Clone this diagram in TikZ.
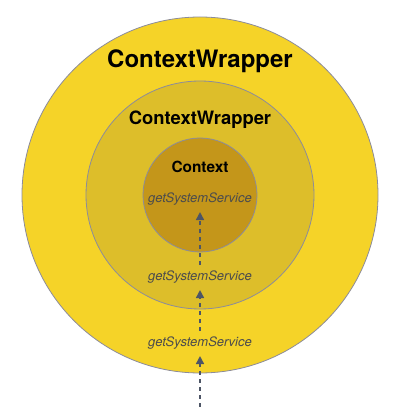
\documentclass[tikz,border=0pt]{standalone}
\usepackage{fontspec}
\setmainfont{TeX Gyre Heros}
\usepackage{tikz}
\usetikzlibrary{arrows.meta}
\definecolor{wrapOuter}{RGB}{245,211,40}
\definecolor{wrapInner}{RGB}{221,190,42}
\definecolor{ctxFill}{RGB}{196,150,26}
\definecolor{ringGray}{RGB}{140,140,155}
\definecolor{callGray}{RGB}{77,85,102}

\begin{document}
\begin{tikzpicture}[x=1pt, y=1pt,
  ring/.style={circle, draw=ringGray, line width=0.8pt, inner sep=0pt, outer sep=0pt},
  title/.style={anchor=base, text=black},
  call/.style={anchor=base, inner sep=6pt, font=\itshape\fontsize{13}{15}\selectfont, text=black!70},
  callarrow/.style={dash pattern=on 4pt off 4pt, line width=1.5pt, draw=callGray,
    -{Triangle[length=8pt, width=8pt, fill=callGray]}}]
  \useasboundingbox (0,0) rectangle (400,415);

	% the three layers
	\node[ring, fill=wrapOuter, minimum size=356pt] (outer) at (200,220) {};
	\node[ring, fill=wrapInner, minimum size=228pt] (middle) at (200,220) {};
	\node[ring, fill=ctxFill, minimum size=114pt] (ctx) at (200,220) {};

	\node[title, font=\bfseries\fontsize{24}{28}\selectfont] (outerName) at (200,347) {ContextWrapper};
	\node[title, font=\bfseries\fontsize{18.4}{22}\selectfont] (middleName) at (200,290) {ContextWrapper};
	\node[title, font=\bfseries\fontsize{15.4}{18}\selectfont] (ctxName) at (200,242) {Context};

	% calls passed inward
	\node[call] (callCtx) at (200,212) {getSystemService};
	\node[call] (callMiddle) at (200,134) {getSystemService};
	\node[call] (callOuter) at (200,68) {getSystemService};
	\coordinate (caller) at (200,8);

	\draw[callarrow] (caller) -- (callOuter);
	\draw[callarrow] (callOuter) -- (callMiddle);
	\draw[callarrow] (callMiddle) -- (callCtx);

\end{tikzpicture}
\end{document}
